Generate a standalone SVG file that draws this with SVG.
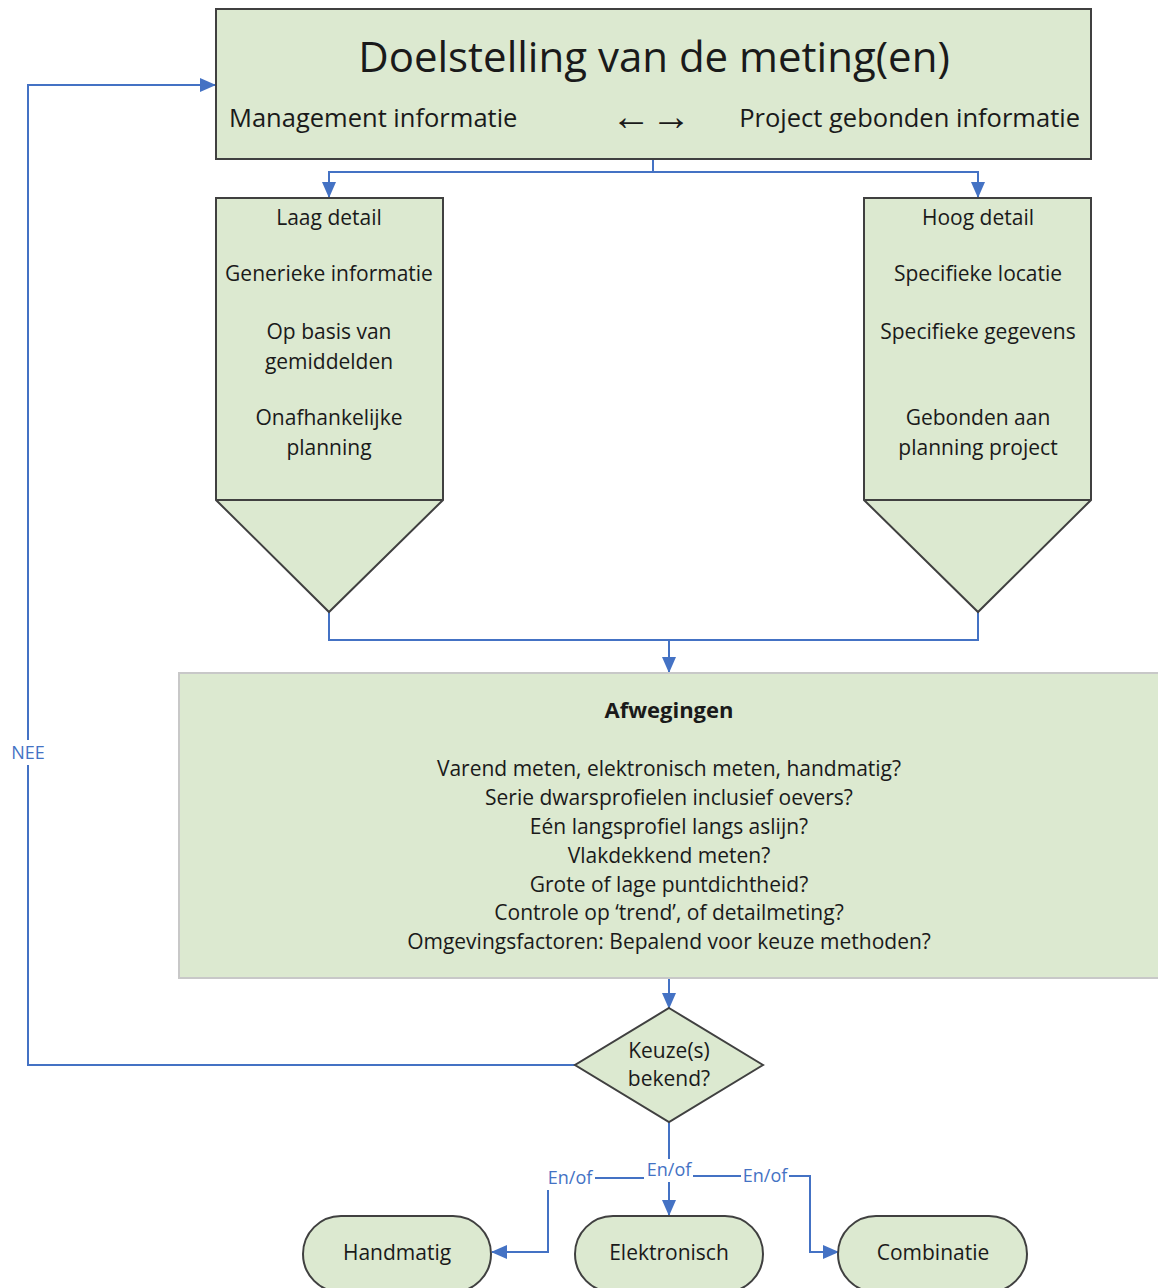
<svg xmlns="http://www.w3.org/2000/svg" width="1158" height="1288" viewBox="0 0 1158 1288">
<defs>
<style>
.node{fill:#dce9d0;stroke:#404040;stroke-width:2}
.soft{fill:#dce9d0;stroke:#c8c8c8;stroke-width:2}
.t{font-family:"Open Sans","Liberation Sans",sans-serif;fill:#1a1a1a}
.c{text-anchor:middle}
.conn{fill:none;stroke:#4472c4;stroke-width:2}
.lbl{font-family:"Open Sans","Liberation Sans",sans-serif;fill:#4472c4;font-size:18px;text-anchor:middle}
</style>
<marker id="ah" markerUnits="userSpaceOnUse" markerWidth="16" markerHeight="16" viewBox="0 0 16 16" refX="15" refY="8" orient="auto">
<path d="M0,1 L16,8 L0,15 Z" fill="#4472c4"/>
</marker>
</defs>

<g id="connectors">
<path class="conn" d="M653,159 V172 H329 V197" marker-end="url(#ah)"/>
<path class="conn" d="M653,172 H978 V197" marker-end="url(#ah)"/>
<path class="conn" d="M329,612 V640 H978 V612"/>
<path class="conn" d="M669,640 V672" marker-end="url(#ah)"/>
<path class="conn" d="M669,978 V1008" marker-end="url(#ah)"/>
<path class="conn" d="M575,1065 H28 V765"/>
<path class="conn" d="M28,740 V85 H215" marker-end="url(#ah)"/>
<text class="lbl" x="28" y="759">NEE</text>
<path class="conn" d="M669,1122 V1159"/>
<path class="conn" d="M669,1182 V1215" marker-end="url(#ah)"/>
<text class="lbl" x="669" y="1176">En/of</text>
<path class="conn" d="M644,1178 H595"/>
<path class="conn" d="M548,1190 V1252 H492" marker-end="url(#ah)"/>
<text class="lbl" x="570" y="1184">En/of</text>
<path class="conn" d="M693,1176 H741"/>
<path class="conn" d="M789,1176 H810 V1252 H838" marker-end="url(#ah)"/>
<text class="lbl" x="765" y="1182">En/of</text>
</g>

<g id="doelstelling">
<rect class="node" x="216" y="9" width="875" height="150"/>
<text class="t c" x="654" y="72" font-size="42">Doelstelling van de meting(en)</text>
<text class="t" x="229" y="127" font-size="25.5">Management informatie</text>
<text class="t c" x="651" y="130" font-size="40" font-weight="bold" font-family="Liberation Sans,sans-serif">←→</text>
<text class="t" x="1080" y="127" font-size="25.5" text-anchor="end">Project gebonden informatie</text>
</g>

<g id="laag-detail">
<path class="node" d="M216,198 H443 V500 L329,612 L216,500 Z"/>
<line x1="216" y1="500" x2="443" y2="500" stroke="#404040" stroke-width="2"/>
<g class="t c" font-size="21">
<text x="329" y="225">Laag detail</text>
<text x="329" y="281">Generieke informatie</text>
<text x="329" y="339">Op basis van</text>
<text x="329" y="369">gemiddelden</text>
<text x="329" y="425">Onafhankelijke</text>
<text x="329" y="455">planning</text>
</g>
</g>

<g id="hoog-detail">
<path class="node" d="M864,198 H1091 V500 L978,612 L864,500 Z"/>
<line x1="864" y1="500" x2="1091" y2="500" stroke="#404040" stroke-width="2"/>
<g class="t c" font-size="21">
<text x="978" y="225">Hoog detail</text>
<text x="978" y="281">Specifieke locatie</text>
<text x="978" y="339">Specifieke gegevens</text>
<text x="978" y="425">Gebonden aan</text>
<text x="978" y="455">planning project</text>
</g>
</g>

<g id="afwegingen">
<rect class="soft" x="179" y="673" width="985" height="305"/>
<text class="t c" x="669" y="718" font-size="22" font-weight="bold">Afwegingen</text>
<g class="t c" font-size="21">
<text x="669" y="776">Varend meten, elektronisch meten, handmatig?</text>
<text x="669" y="805">Serie dwarsprofielen inclusief oevers?</text>
<text x="669" y="834">Eén langsprofiel langs aslijn?</text>
<text x="669" y="863">Vlakdekkend meten?</text>
<text x="669" y="892">Grote of lage puntdichtheid?</text>
<text x="669" y="920">Controle op ‘trend’, of detailmeting?</text>
<text x="669" y="949">Omgevingsfactoren: Bepalend voor keuze methoden?</text>
</g>
</g>

<g id="keuze">
<path class="node" d="M669,1008 L763,1065 L669,1122 L575,1065 Z"/>
<g class="t c" font-size="21">
<text x="669" y="1058">Keuze(s)</text>
<text x="669" y="1086">bekend?</text>
</g>
</g>

<g id="handmatig">
<rect class="node" x="303" y="1216" width="188" height="76" rx="38"/>
<text class="t c" x="397" y="1260" font-size="21">Handmatig</text>
</g>
<g id="elektronisch">
<rect class="node" x="575" y="1216" width="188" height="76" rx="38"/>
<text class="t c" x="669" y="1260" font-size="21">Elektronisch</text>
</g>
<g id="combinatie">
<rect class="node" x="838" y="1216" width="189" height="76" rx="38"/>
<text class="t c" x="933" y="1260" font-size="21">Combinatie</text>
</g>
</svg>
